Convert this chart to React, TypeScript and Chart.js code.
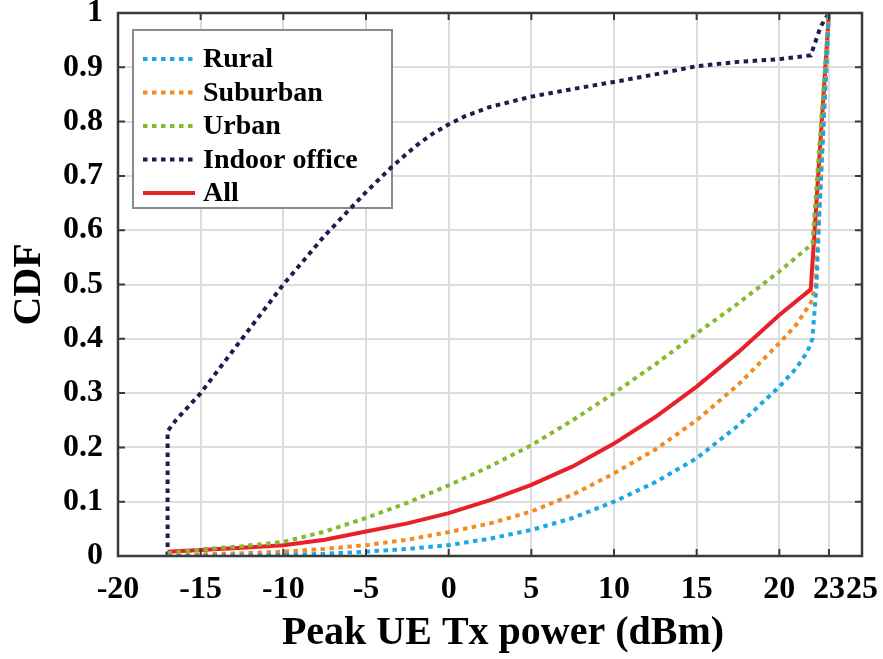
import React, { useEffect, useRef } from 'react';
import { Chart, registerables } from 'chart.js';

Chart.register(...registerables);

const seriesLabels = ['Rural', 'Suburban', 'Urban', 'Indoor office', 'All'];

const ruralX = [-17, -15, -12.5, -10, -7.5, -5, -2.5, 0, 2.5, 5, 7.5, 10, 12.5, 15, 17.5, 20, 21, 21.7, 22, 22.25, 22.4, 23];
const ruralY = [0, 0, 0.001, 0.002, 0.004, 0.008, 0.013, 0.02, 0.032, 0.048, 0.07, 0.1, 0.136, 0.18, 0.24, 0.312, 0.345, 0.376, 0.4, 0.5, 0.62, 1.0];

const suburbanX = [-17, -15, -12.5, -10, -7.5, -5, -2.5, 0, 2.5, 5, 7.5, 10, 12.5, 15, 17.5, 20, 21, 21.9, 22.2, 23];
const suburbanY = [0.001, 0.003, 0.005, 0.008, 0.013, 0.02, 0.03, 0.044, 0.06, 0.082, 0.113, 0.152, 0.196, 0.25, 0.315, 0.392, 0.425, 0.466, 0.5, 1.0];

const urbanX = [-17, -15, -12.5, -10, -7.5, -5, -2.5, 0, 2.5, 5, 7.5, 10, 12.5, 15, 17.5, 20, 22, 23];
const urbanY = [0.005, 0.012, 0.018, 0.026, 0.045, 0.07, 0.098, 0.13, 0.165, 0.204, 0.25, 0.3, 0.353, 0.41, 0.465, 0.524, 0.575, 1.0];

const indoorX = [-17, -17, -16.5, -15, -12.5, -10, -7.5, -5, -3.5, -2, -1, 0, 1, 2.5, 5, 7.5, 10, 12.5, 15, 17.5, 20, 21.9, 22.5, 23];
const indoorY = [0, 0.23, 0.25, 0.3, 0.4, 0.5, 0.59, 0.67, 0.715, 0.755, 0.777, 0.795, 0.81, 0.827, 0.846, 0.86, 0.873, 0.887, 0.902, 0.91, 0.915, 0.922, 0.975, 1.0];

const allX = [-17, -15, -12.5, -10, -7.5, -5, -2.5, 0, 2.5, 5, 7.5, 10, 12.5, 15, 17.5, 20, 21.9, 23];
const allY = [0.008, 0.011, 0.015, 0.02, 0.03, 0.045, 0.06, 0.079, 0.103, 0.131, 0.165, 0.207, 0.256, 0.312, 0.375, 0.444, 0.491, 1.0];

const xTickValues = [-20, -15, -10, -5, 0, 5, 10, 15, 20, 23, 25];
const yTickValues = [0, 0.1, 0.2, 0.3, 0.4, 0.5, 0.6, 0.7, 0.8, 0.9, 1];

const xTitle = 'Peak UE Tx power (dBm)';
const yTitle = 'CDF';

const FONT = '"Liberation Serif", "Times New Roman", serif';

const toPoints = (xs: number[], ys: number[]) => xs.map((x, i) => ({ x, y: ys[i] }));

const framePlugin = {
  id: 'framePlugin',
  beforeDatasetsDraw(chart: any) {
    // legend box (drawn under the curves, as in the reference)
    const ctx = chart.ctx;
    const { left, top } = chart.chartArea;
    const bx = left + 15;
    const by = top + 17;
    const bw = 259;
    const bh = 178;
    ctx.save();
    ctx.fillStyle = '#ffffff';
    ctx.fillRect(bx, by, bw, bh);
    ctx.strokeStyle = '#8a8a8a';
    ctx.lineWidth = 2;
    ctx.strokeRect(bx, by, bw, bh);
    const rowStart = by + 29;
    const rowGap = 33.5;
    chart.data.datasets.forEach((ds: any, i: number) => {
      const y = rowStart + i * rowGap;
      ctx.beginPath();
      ctx.strokeStyle = ds.borderColor;
      ctx.lineWidth = ds.borderWidth;
      ctx.setLineDash(ds.borderDash || []);
      ctx.moveTo(bx + 10, y);
      ctx.lineTo(bx + 62, y);
      ctx.stroke();
      ctx.setLineDash([]);
      ctx.fillStyle = '#000000';
      ctx.font = 'bold 28px ' + FONT;
      ctx.textBaseline = 'middle';
      ctx.textAlign = 'left';
      ctx.fillText(ds.label, bx + 70, y + 1);
    });
    ctx.restore();
  },
  afterDatasetsDraw(chart: any) {
    const ctx = chart.ctx;
    const { left, right, top, bottom } = chart.chartArea;
    const xs = chart.scales.x;
    const ys = chart.scales.y;
    ctx.save();
    ctx.strokeStyle = '#3a3a3a';
    ctx.lineWidth = 2;
    ctx.beginPath();
    xTickValues.forEach((v) => {
      const px = xs.getPixelForValue(v);
      ctx.moveTo(px, bottom);
      ctx.lineTo(px, bottom - 7);
      ctx.moveTo(px, top);
      ctx.lineTo(px, top + 7);
    });
    yTickValues.forEach((v) => {
      const py = ys.getPixelForValue(v);
      ctx.moveTo(left, py);
      ctx.lineTo(left + 7, py);
      ctx.moveTo(right, py);
      ctx.lineTo(right - 7, py);
    });
    ctx.stroke();
    ctx.lineWidth = 2.5;
    ctx.strokeRect(left, top, right - left, bottom - top);
    // x-axis title, centred slightly right of the plot centre as in the reference
    ctx.fillStyle = '#000000';
    ctx.font = 'bold 40px ' + FONT;
    ctx.textAlign = 'center';
    ctx.textBaseline = 'middle';
    ctx.fillText(xTitle, (left + right) / 2 + 13, xs.bottom - 25);
    ctx.restore();
  },
};

export default function App() {
  const canvasRef = useRef<HTMLCanvasElement | null>(null);

  useEffect(() => {
    document.body.style.margin = '0';
    const canvas = canvasRef.current;
    if (!canvas) return;
    const dotted = [4.5, 4.5];
    const chart = new Chart(canvas, {
      type: 'line',
      data: {
        datasets: [
          { label: seriesLabels[0], data: toPoints(ruralX, ruralY), borderColor: '#1ba7e3', borderWidth: 4, borderDash: dotted },
          { label: seriesLabels[1], data: toPoints(suburbanX, suburbanY), borderColor: '#f48a22', borderWidth: 4, borderDash: dotted },
          { label: seriesLabels[2], data: toPoints(urbanX, urbanY), borderColor: '#86b92e', borderWidth: 4, borderDash: dotted },
          { label: seriesLabels[3], data: toPoints(indoorX, indoorY), borderColor: '#1c1c4f', borderWidth: 4, borderDash: dotted },
          { label: seriesLabels[4], data: toPoints(allX, allY), borderColor: '#e8202a', borderWidth: 4 },
        ] as any,
      },
      options: {
        animation: false,
        responsive: true,
        maintainAspectRatio: false,
        parsing: true,
        elements: { point: { radius: 0, hoverRadius: 0 }, line: { tension: 0 } },
        layout: { padding: { top: 13, right: 21, left: 0, bottom: 0 } },
        plugins: { legend: { display: false }, tooltip: { enabled: false } },
        scales: {
          x: {
            type: 'linear',
            min: -20,
            max: 25,
            afterBuildTicks: (scale: any) => {
              scale.ticks = xTickValues.map((v) => ({ value: v }));
            },
            afterFit: (scale: any) => {
              scale.height = 103;
              scale.paddingLeft = 0;
              scale.paddingRight = 0;
            },
            ticks: {
              autoSkip: false,
              maxRotation: 0,
              minRotation: 0,
              padding: 15,
              color: '#000',
              font: { family: FONT, size: 32, weight: 'bold' },
              callback: (v: any) => String(v),
            },
            grid: { color: '#dcdcdc', lineWidth: 2, drawTicks: false },
            border: { display: false },
            title: { display: false, text: xTitle },
          },
          y: {
            type: 'linear',
            min: 0,
            max: 1,
            afterBuildTicks: (scale: any) => {
              scale.ticks = yTickValues.map((v) => ({ value: v }));
            },
            afterFit: (scale: any) => {
              scale.width = 118;
              scale.paddingTop = 0;
              scale.paddingBottom = 0;
            },
            ticks: {
              autoSkip: false,
              padding: 15,
              color: '#000',
              font: { family: FONT, size: 32, weight: 'bold' },
              callback: (v: any) => String(v),
            },
            grid: { color: '#dcdcdc', lineWidth: 2, drawTicks: false },
            border: { display: false },
            title: {
              display: true,
              text: yTitle,
              color: '#000',
              font: { family: FONT, size: 40, weight: 'bold' },
              padding: { top: 6, bottom: 0 },
            },
          },
        },
      } as any,
      plugins: [framePlugin],
    });
    return () => chart.destroy();
  }, []);

  return (
    <div style={{ position: 'relative', width: 883, height: 659 }}>
      <canvas ref={canvasRef} />
    </div>
  );
}
